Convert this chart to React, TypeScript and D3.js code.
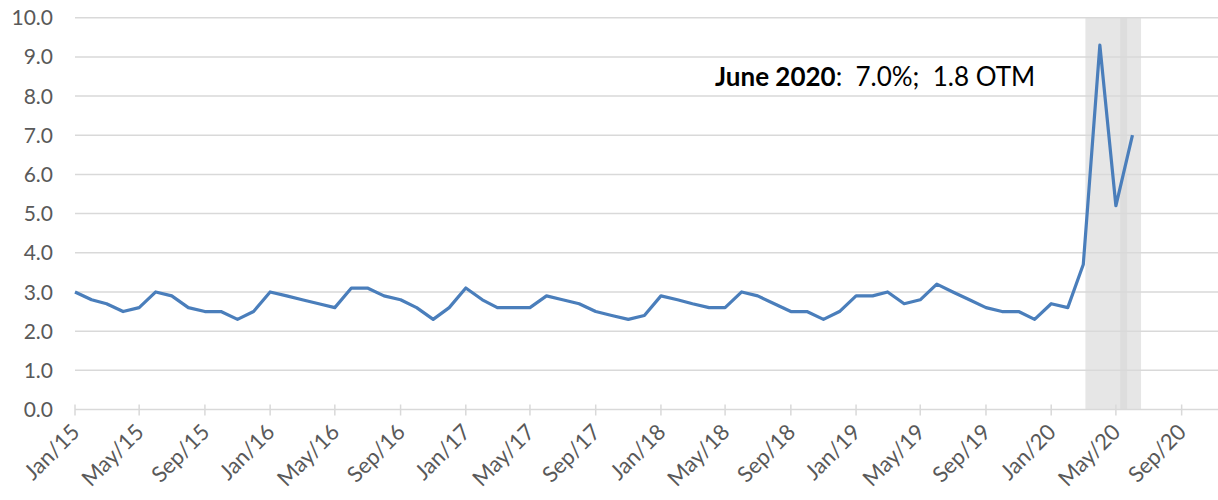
import React, { useEffect, useRef } from 'react';
import { select, scaleLinear, scaleTime, line, timeMonth, timeFormat, range } from 'd3';

// monthly rate, Jan 2015 .. Jun 2020
const startMonth = new Date(2015, 0, 1);
const rates = [
  3.0, 2.8, 2.7, 2.5, 2.6, 3.0, 2.9, 2.6, 2.5, 2.5, 2.3, 2.5,
  3.0, 2.9, 2.8, 2.7, 2.6, 3.1, 3.1, 2.9, 2.8, 2.6, 2.3, 2.6,
  3.1, 2.8, 2.6, 2.6, 2.6, 2.9, 2.8, 2.7, 2.5, 2.4, 2.3, 2.4,
  2.9, 2.8, 2.7, 2.6, 2.6, 3.0, 2.9, 2.7, 2.5, 2.5, 2.3, 2.5,
  2.9, 2.9, 3.0, 2.7, 2.8, 3.2, 3.0, 2.8, 2.6, 2.5, 2.5, 2.3,
  2.7, 2.6, 3.7, 9.3, 5.2, 7.0,
];
const yTicks = [0, 1, 2, 3, 4, 5, 6, 7, 8, 9, 10];
// shaded periods (two overlapping bands)
const bandStarts = [new Date(2020, 2, 5), new Date(2020, 4, 9)];
const bandEnds = [new Date(2020, 4, 22), new Date(2020, 5, 17)];
const annotationBold = 'June 2020';
const annotationRest = ':  7.0%;  1.8 OTM';

const App = () => {
  const svgRef = useRef(null);

  useEffect(() => {
    const svg = select(svgRef.current);
    svg.selectAll('*').remove();

    const left = 75;
    const right = 1218;
    const top = 17.7;
    const bottom = 409.5;
    const font = 'Lato, "Open Sans", sans-serif';

    const x = scaleTime()
      .domain([new Date(2015, 0, 1), new Date(2020, 10, 8)])
      .range([left, right]);
    const y = scaleLinear().domain([0, 10]).range([bottom, top]);

    const points = rates.map((v, i) => ({ date: timeMonth.offset(startMonth, i), v }));

    // shading
    bandStarts.forEach((s, i) => {
      svg
        .append('rect')
        .attr('x', x(s))
        .attr('y', y(10))
        .attr('width', x(bandEnds[i]) - x(s))
        .attr('height', y(0) - y(10))
        .attr('fill', '#d9d9d9')
        .attr('fill-opacity', 0.65);
    });

    // gridlines + y labels
    yTicks.forEach((t) => {
      svg
        .append('line')
        .attr('x1', left)
        .attr('x2', right)
        .attr('y1', y(t))
        .attr('y2', y(t))
        .attr('stroke', '#d9d9d9')
        .attr('stroke-width', 1.5);
      svg
        .append('text')
        .attr('x', 53)
        .attr('y', y(t))
        .attr('dy', '0.36em')
        .attr('text-anchor', 'end')
        .attr('font-family', font)
        .attr('font-size', 21)
        .attr('fill', '#595959')
        .text(t.toFixed(1));
    });

    // x ticks every 4 months
    const ticks = range(0, 24).map((i) => timeMonth.offset(startMonth, i * 4)).filter((d) => x(d) < right);
    const fmt = timeFormat('%b/%y');
    ticks.forEach((d) => {
      svg
        .append('line')
        .attr('x1', x(d))
        .attr('x2', x(d))
        .attr('y1', bottom - 5)
        .attr('y2', bottom + 6)
        .attr('stroke', '#d9d9d9')
        .attr('stroke-width', 1.5);
      svg
        .append('text')
        .attr('transform', `translate(${x(d) + 6}, ${bottom + 24}) rotate(-45)`)
        .attr('text-anchor', 'end')
        .attr('font-family', font)
        .attr('font-size', 22)
        .attr('fill', '#595959')
        .text(fmt(d));
    });

    // the series
    const path = line<any>()
      .x((d) => x(d.date))
      .y((d) => y(d.v));
    svg
      .append('path')
      .datum(points)
      .attr('d', path)
      .attr('fill', 'none')
      .attr('stroke', '#4a7ebb')
      .attr('stroke-width', 3.2)
      .attr('stroke-linejoin', 'round');

    // annotation
    const note = svg
      .append('text')
      .attr('x', 715)
      .attr('y', 86)
      .attr('font-family', font)
      .attr('font-size', 26)
      .attr('fill', '#000');
    note.append('tspan').attr('font-weight', 'bold').text(annotationBold);
    note.append('tspan').attr('xml:space', 'preserve').style('white-space', 'pre').text(annotationRest);
  }, []);

  return (
    <svg
      ref={svgRef}
      width={1218}
      height={500}
      style={{ position: 'absolute', left: 0, top: 0, background: '#fff' }}
    ></svg>
  );
};

export default App;
